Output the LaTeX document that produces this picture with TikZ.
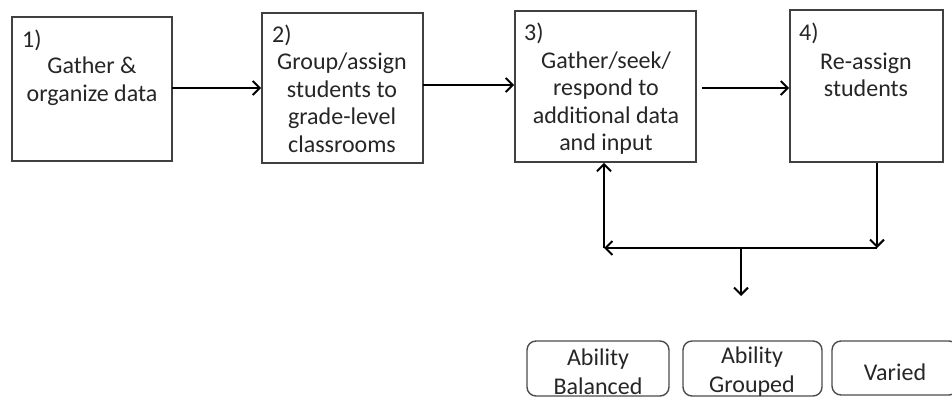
\documentclass[tikz,border=0pt]{standalone}
\usepackage{fontspec}
\setmainfont{Carlito}
\usetikzlibrary{arrows.meta}
\begin{document}
\begin{tikzpicture}[x=1pt,y=-1pt,
  stepbox/.style={draw=black!75,line width=1.7pt,inner sep=0pt},
  optbox/.style={draw=black!70,line width=1.4pt,rounded corners=9pt,inner sep=0pt},
  txt/.style={font=\fontsize{24}{27.5}\selectfont,align=center,text=black!85,inner sep=0pt},
  otxt/.style={font=\fontsize{24}{29}\selectfont,align=center,text=black!85,inner sep=0pt},
  numlbl/.style={font=\fontsize{24}{27}\selectfont,anchor=west,text=black!85,inner sep=0pt},
  conn/.style={line width=2.6pt,-{Straight Barb[length=7pt,width=14pt,line width=2pt]}}]
\useasboundingbox (0,0) rectangle (952,410);
\clip (0,0) rectangle (952,410);
% main boxes
\node[stepbox,minimum width=160pt,minimum height=144pt] (b1) at (92,89) {};
\node[stepbox,minimum width=161pt,minimum height=150pt] (b2) at (342.5,88) {};
\node[stepbox,minimum width=181pt,minimum height=151pt] (b3) at (605.5,86.5) {};
\node[stepbox,minimum width=153pt,minimum height=152pt] (b4) at (866.5,86) {};
% labels
\node[numlbl] (n1) at (22,40) {1)};
\node[numlbl] (n2) at (272,35) {2)};
\node[numlbl] (n3) at (524,33) {3)};
\node[numlbl] (n4) at (799,33) {4)};
\node[txt] (t1) at (92,81) {Gather \&\\organize data};
\node[txt] (t2) at (342,103) {Group/assign\\students to\\grade-level\\classrooms};
\node[txt] (t3) at (606,103) {Gather/seek/\\respond to\\additional data\\and input};
\node[txt] (t4) at (866,75) {Re-assign\\students};
% option boxes
\node[optbox,minimum width=142pt,minimum height=55pt] (o1) at (598,368.5) {};
\node[optbox,minimum width=139pt,minimum height=55pt] (o2) at (752.5,368.5) {};
\node[optbox,minimum width=126pt,minimum height=54pt] (o3) at (895,368) {};
\node[otxt] (ot1) at (598,372) {Ability\\Balanced};
\node[otxt] (ot2) at (752,372) {Ability\\Grouped};
\node[otxt] (ot3) at (895,372) {Varied};
% connectors
\coordinate (a1) at (172,88);
\coordinate (a2) at (423,85);
\coordinate (a3) at (702,88);
\coordinate (c4) at (877,162);
\coordinate (cR) at (877,248);
\coordinate (cL) at (604,248);
\coordinate (c3) at (604,163);
\coordinate (cM) at (741,249);
\coordinate (cD) at (741,296);
\draw[conn] (a1) -- (a1 -| b2.west);
\draw[conn] (a2) -- (a2 -| b3.west);
\draw[conn] (a3) -- (a3 -| b4.west);
\draw[conn] (c4 |- b4.south) -- (cR);
\draw[conn] (cR) -- (cL);
\draw[conn] (cL) -- (c3 |- b3.south);
\draw[conn] (cM) -- (cD);
\end{tikzpicture}
\end{document}
